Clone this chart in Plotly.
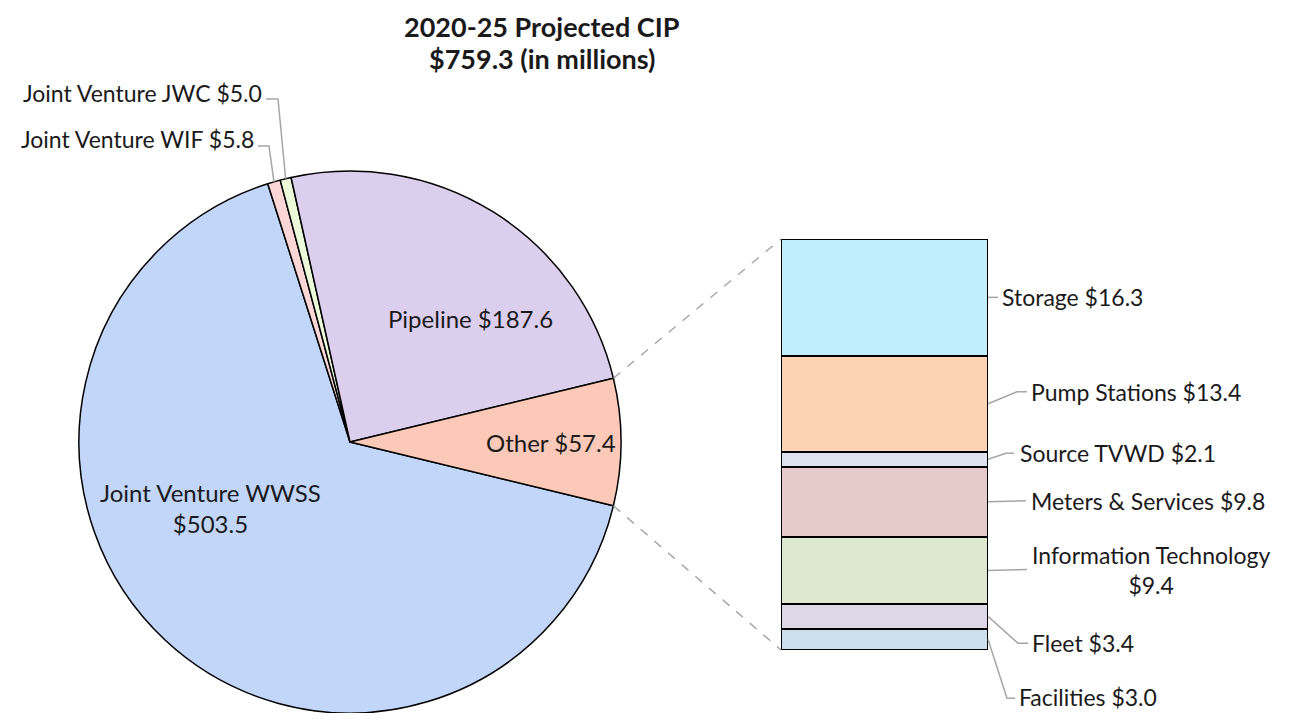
import math
import plotly.graph_objects as go

# pie: main categories (in millions)
pie_labels = ["Joint Venture WWSS", "Joint Venture WIF", "Joint Venture JWC", "Pipeline", "Other"]
pie_values = [503.5, 5.8, 5.0, 187.6, 57.4]
pie_colors = ["#c2d6fa", "#fbd6d6", "#ebfbda", "#dccfee", "#fcc8b8"]

# bar: breakdown of "Other", top to bottom
other_labels = ["Storage", "Pump Stations", "Source TVWD", "Meters & Services",
                "Information Technology", "Fleet", "Facilities"]
other_values = [16.3, 13.4, 2.1, 9.8, 9.4, 3.4, 3.0]
other_colors = ["#c0eefa", "#fcd3b3", "#dde2ee", "#e5caca", "#dee8d0", "#ddd7e6", "#cbe0ea"]

title_lines = ["2020-25 Projected CIP", "$759.3 (in millions)"]

# page is 1308x721, the plot div sits inside the 8px body margin
OFF = 8
W, H = 1308 - 2 * OFF, 721 - 2 * OFF
FONT = "Lato"
TXT = "#1a1a1a"
LEADER = "#a6a6a6"

total = sum(pie_values)
other_total = sum(other_values)


def px(x, y):
    # page pixel -> paper coords
    return (x - OFF) / W, 1 - (y - OFF) / H


# pixel geometry of the pie (centre / radius) and bar area on the page
pcx, pcy, pr = 350, 442, 271
bar_x0, bar_x1, bar_y0, bar_y1 = 781, 988, 239, 650
pie_dom_x = [px(pcx - pr, 0)[0], px(pcx + pr, 0)[0]]
pie_dom_y = [max(0, px(0, pcy + pr)[1]), px(0, pcy - pr)[1]]
bar_dom_x = [px(bar_x0, 0)[0], px(bar_x1, 0)[0]]
bar_dom_y = [px(0, bar_y1)[1], px(0, bar_y0)[1]]

fig = go.Figure()

# "Other" is centred at 3 o'clock, WWSS follows it clockwise
other_frac = pie_values[4] / total
rotation = 90 + other_frac * 360 / 2

fig.add_trace(go.Pie(
    labels=pie_labels, values=pie_values, sort=False, direction="clockwise",
    rotation=rotation, textinfo="none", hoverinfo="label+value",
    marker=dict(colors=pie_colors, line=dict(color="black", width=1.5)),
    domain=dict(x=pie_dom_x, y=pie_dom_y), showlegend=False,
))

# stacked bar, bottom segment first
for lab, val, col in reversed(list(zip(other_labels, other_values, other_colors))):
    fig.add_trace(go.Bar(
        x=[0], y=[val], name=lab, width=1, showlegend=False, cliponaxis=False,
        marker=dict(color=col, line=dict(color="black", width=2)),
        hovertemplate=lab + " $%{y:.1f}<extra></extra>",
    ))

shapes = []
annotations = []

# dashed connectors from the "Other" slice edges to the bar corners
half = math.pi * other_frac
for sgn, by in [(-1, bar_y0), (1, bar_y1)]:
    ex = pcx + pr * math.cos(half)
    ey = pcy + sgn * pr * math.sin(half)
    x0, y0 = px(ex, ey)
    x1, y1 = px(bar_x0, by)
    shapes.append(dict(type="line", xref="paper", yref="paper", x0=x0, y0=y0, x1=x1, y1=y1,
                       line=dict(color=LEADER, width=1.5, dash="dash")))


def lab(i, sep=" "):
    return f"{pie_labels[i]}{sep}${pie_values[i]:.1f}"


# inside pie labels
inside = [(lab(0, "<br>"), 210, 508), (lab(3), 470, 318), (lab(4), 551, 442)]
for t, x, y in inside:
    ax, ay = px(x, y)
    annotations.append(dict(text=t, x=ax, y=ay, xref="paper", yref="paper", showarrow=False,
                            xanchor="center", yanchor="middle",
                            font=dict(size=24, color=TXT, family=FONT)))

# outside labels for the tiny slices with elbow leaders
cum = 0
angles = []
for v in pie_values:
    angles.append(rotation + (cum + v / 2) / total * 360)
    cum += v
outside = {1: (146, 139, 256, 269), 2: (99, 93, 264, 278)}
for i, (ly, ty, tx_end, elbow_x) in outside.items():
    a = math.radians(angles[i])
    ex, ey = pcx + pr * math.sin(a), pcy - pr * math.cos(a)
    pts = [px(ex, ey), px(elbow_x, ly), px(tx_end + 2, ly)]
    path = "M" + " L".join(f"{x},{y}" for x, y in pts)
    shapes.append(dict(type="path", xref="paper", yref="paper", path=path,
                       line=dict(color=LEADER, width=1.5)))
    ax, ay = px(tx_end, ty)
    annotations.append(dict(text=lab(i), x=ax, y=ay, xref="paper", yref="paper", showarrow=False,
                            xanchor="right", yanchor="middle",
                            font=dict(size=23, color=TXT, family=FONT)))

# bar labels with leaders anchored at each segment's right edge
# (leader path offsets in px, text offset in px; y positive = up)
bar_leaders = [
    ([(0, 0), (10, 0)], (12, 0)),
    ([(0, 0), (29, 12), (39, 12)], (41, 12)),
    ([(0, 0), (18, 6), (26, 6)], (30, 6)),
    ([(0, 0), (38, 1)], (41, 1)),
    ([(0, 0), (39, 1)], (42, 1)),
    ([(0, 0), (30, -27), (40, -27)], (42, -27)),
    ([(0, 0), (19, -59), (27, -59)], (29, -58)),
]
top = other_total
for lab_i, val, (pts, (tx, ty)) in zip(other_labels, other_values, bar_leaders):
    mid = top - val / 2
    top -= val
    ymid = bar_dom_y[0] + mid / other_total * (bar_dom_y[1] - bar_dom_y[0])
    path = "M" + " L".join(f"{x},{y}" for x, y in pts)
    shapes.append(dict(type="path", xref="paper", yref="paper", xsizemode="pixel", ysizemode="pixel",
                       xanchor=bar_dom_x[1], yanchor=ymid, path=path,
                       line=dict(color=LEADER, width=1.5)))
    if lab_i == "Information Technology":
        text = f"{lab_i}<br>${val:.1f}"
    else:
        text = f"{lab_i} ${val:.1f}"
    annotations.append(dict(text=text, x=bar_dom_x[1], y=ymid, xref="paper", yref="paper",
                            showarrow=False, xanchor="left", yanchor="middle",
                            xshift=tx, yshift=ty, align="center",
                            font=dict(size=23, color=TXT, family=FONT)))

# title, one annotation per line
for line, ly in zip(title_lines, [26, 59]):
    tx, ty = px(542, ly)
    annotations.append(dict(text="<b>" + line + "</b>", x=tx, y=ty,
                            xref="paper", yref="paper", showarrow=False,
                            xanchor="center", yanchor="middle",
                            font=dict(size=27, color=TXT, family=FONT)))

fig.update_layout(
    width=W, height=H, margin=dict(l=0, r=0, t=0, b=0),
    paper_bgcolor="white", plot_bgcolor="rgba(0,0,0,0)",
    barmode="stack", bargap=0,
    xaxis=dict(domain=bar_dom_x, range=[-0.5, 0.5], visible=False, fixedrange=True),
    yaxis=dict(domain=bar_dom_y, range=[0, other_total], visible=False, fixedrange=True),
    shapes=shapes, annotations=annotations,
)

fig.write_html("out.html")
